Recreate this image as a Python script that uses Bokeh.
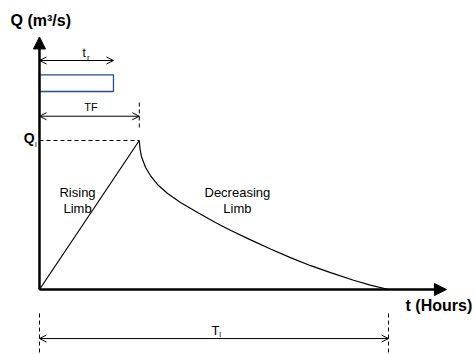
from bokeh.plotting import figure
from bokeh.models import Arrow, OpenHead, NormalHead, Range1d
from bokeh.core.properties import value
from bokeh.embed import file_html
from bokeh.resources import INLINE

# ---- data (hours, m3/s) ----
t_rise = [0.0, 2.86]
q_rise = [0.0, 100.0]
t_rec = [2.86, 2.88, 2.92, 3.04, 3.18, 3.38, 3.67, 4.04, 4.53, 5.04, 5.47,
         6.05, 6.62, 7.19, 7.77, 8.34, 9.00, 9.48, 10.0]
q_rec = [100.0, 94.6, 89.3, 81.9, 76.5, 70.5, 64.4, 58.4, 51.7, 45.0, 39.8,
         33.3, 27.2, 21.4, 16.0, 11.3, 6.2, 3.0, 0.0]
t_r = 2.12      # rainfall duration
t_f = 2.86      # time to peak
t_l = 10.0      # base time
q_p = 100.0     # peak discharge

FONT = value("Liberation Sans")

p = figure(width=475, height=354, output_backend="svg", toolbar_location=None,
           x_range=Range1d(-1.117, 12.493), y_range=Range1d(-43.6, 193.96),
           min_border=0, outline_line_color=None)
p.axis.visible = False
p.grid.visible = False
p.background_fill_color = "white"
p.border_fill_color = "white"

# axes with arrow heads
p.add_layout(Arrow(x_start=0, y_start=0, x_end=11.66, y_end=0, line_width=2.5,
                   line_color="black",
                   end=NormalHead(size=12, fill_color="black", line_color="black", line_width=1)))
p.add_layout(Arrow(x_start=0, y_start=0, x_end=0, y_end=169.5, line_width=2.5,
                   line_color="black",
                   end=NormalHead(size=12, fill_color="black", line_color="black", line_width=1)))

# hydrograph
p.line(t_rise, q_rise, line_color="black", line_width=1.2)
p.line(t_rec, q_rec, line_color="black", line_width=1.2)

# rainfall block
p.quad(left=[0], right=[t_r], bottom=[132.9], top=[144.1], fill_color=None,
       line_color="#2b4a86", line_width=1.3)

# dimension arrows
def dim(x0, x1, y):
    p.add_layout(Arrow(x_start=x0, y_start=y, x_end=x1, y_end=y, line_width=1,
                       line_color="black",
                       start=OpenHead(size=7, line_width=1, line_color="black"),
                       end=OpenHead(size=7, line_width=1, line_color="black")))

dim(0, t_r, 153.7)
dim(0, t_f, 116.3)
dim(0, t_l, -32.9)

# dashed guides
p.segment(x0=[t_f], y0=[125.5], x1=[t_f], y1=[108.7], line_color="black",
          line_width=1, line_dash="4 3")
p.segment(x0=[0], y0=[q_p], x1=[t_f], y1=[q_p], line_color="black",
          line_width=1, line_dash="4 3")
p.segment(x0=[0, t_l], y0=[-16.1, -16.1], x1=[0, t_l], y1=[-45, -45],
          line_color="black", line_width=1, line_dash="4 3")

# labels
def txt(x, y, s, size, bold=False, align="left", baseline="middle", color="black"):
    p.text(x=[x], y=[y], text=[s], text_font=FONT, text_font_size=f"{size}px",
           text_font_style="bold" if bold else "normal", text_align=align,
           text_baseline=baseline, text_color=color)

txt(-0.83, 180.5, "Q (m³/s)", 16, bold=True)
txt(10.49, -10.7, "t (Hours)", 16, bold=True)

txt(1.23, 158.8, "t", 12, align="left")
txt(1.36, 155.8, "r", 8, align="left")
txt(1.28, 122.5, "TF", 11, align="left")

txt(-0.45, 101.5, "Q", 14, bold=True, align="left")
txt(-0.13, 97.0, "l", 8, align="left")

txt(1.09, 65.1, "Rising", 13, align="center")
txt(1.09, 54.4, "Limb", 13, align="center")
txt(5.67, 65.1, "Decreasing", 13, align="center")
txt(5.67, 54.4, "Limb", 13, align="center")

txt(4.93, -27.5, "T", 13, align="left")
txt(5.15, -30.0, "l", 8, align="left")

open("out.html", "w").write(file_html(p, INLINE))
